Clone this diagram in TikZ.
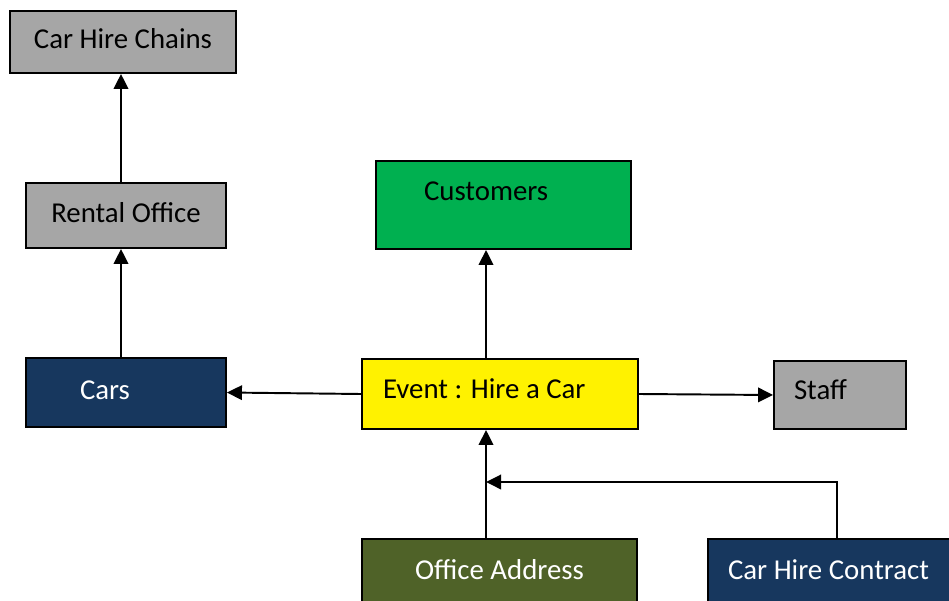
\documentclass[tikz,border=0pt]{standalone}
\usepackage{fontspec}
\setmainfont{Carlito}
\usepackage{tikz}
\usetikzlibrary{arrows.meta}
\pgfdeclarelayer{edgelayer}
\pgfdeclarelayer{nodelayer}
\pgfsetlayers{edgelayer,nodelayer,main}
\definecolor{boxgray}{HTML}{A6A6A6}
\definecolor{boxgreen}{HTML}{00B050}
\definecolor{boxnavy}{HTML}{17375E}
\definecolor{boxolive}{HTML}{4F6228}
\tikzstyle{box}=[rectangle, draw=black, line width=1.1pt, inner ysep=0pt, text height=11.5pt, text depth=4pt, font=\fontsize{16.4}{20}\selectfont]
\tikzstyle{graybox}=[box, fill=boxgray]
\tikzstyle{navybox}=[box, fill=boxnavy, text=white]
\tikzstyle{link}=[draw=black, line width=1.1pt, -{Triangle[length=3mm,width=2.9mm]}]

\begin{document}
\begin{tikzpicture}[x=0.02cm, y=-0.02cm]
	\useasboundingbox (0,0) rectangle (949,601);
	\begin{pgfonlayer}{nodelayer}

	%top chain
		\node [style=graybox, minimum width=4.52cm, minimum height=1.24cm] (chains) at (123,42) {Car Hire Chains};
		\node [style=graybox, minimum width=4cm, minimum height=1.3cm] (rental) at (126,215.5) {Rental Office};
		\node [style=navybox, minimum width=4cm, minimum height=1.38cm, inner xsep=1.08cm, text width=1.84cm, align=flush left] (cars) at (126,392.5) {Cars};

	%event and the rest
		\node [style=box, fill=boxgreen, minimum width=5.1cm, minimum height=1.76cm, inner xsep=0.96cm, text width=3.18cm, align=flush left, text depth=17pt] (customers) at (503.5,205) {Customers};
		\node [style=box, fill=yellow, minimum width=5.52cm, minimum height=1.4cm, inner xsep=0.42cm, text width=4.68cm, align=flush left, text depth=6.5pt] (event) at (500,394) {Event : Hire a Car};
		\node [style=graybox, minimum width=2.64cm, minimum height=1.36cm, inner xsep=0.4cm, text width=1.84cm, align=flush left, text depth=6pt] (staff) at (840,395) {Staff};
		\node [style=box, fill=boxolive, text=white, minimum width=5.5cm, minimum height=1.4cm, text depth=5.5pt] (office) at (499.5,574) {Office Address};
		\node [style=navybox, minimum width=5.16cm, minimum height=1.4cm, inner xsep=0.4cm, text width=4.36cm, align=flush left, text depth=5.5pt] (contract) at (837,574) {Car Hire Contract};

		\coordinate (junction) at (486,482);

	\end{pgfonlayer}
	\begin{pgfonlayer}{edgelayer}

		%left column
		\draw [style=link] ([xshift=-0.1cm]rental.north) to ([xshift=-0.04cm]chains.south);
		\draw [style=link] ([xshift=-0.1cm]cars.north) to ([xshift=-0.1cm]rental.south);

		%around the event
		\draw [style=link] (event.north -| junction) to (customers.south -| junction);
		\draw [style=link] (event.west) to (cars.east);
		\draw [style=link] (event.east) to (staff.west);
		\draw [style=link] (office.north -| junction) to (event.south -| junction);
		\draw [style=link] (contract.north) |- (junction);

	\end{pgfonlayer}
\end{tikzpicture}
\end{document}
